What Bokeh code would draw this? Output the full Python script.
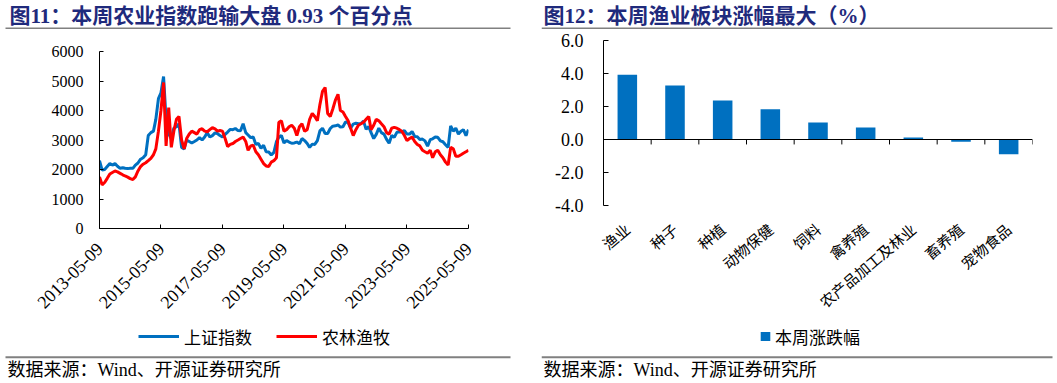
import math
import pandas as pd
from bokeh.plotting import figure
from bokeh.layouts import row, column
from bokeh.models import (Range1d, FactorRange, FixedTicker, DatetimeTickFormatter,
                          NumeralTickFormatter, Legend, LegendItem, Span, ColumnDataSource)
from bokeh.transform import dodge
from bokeh.core.properties import value
from bokeh.embed import file_html
from bokeh.resources import INLINE

# ---------------- data ----------------
start_date = "2013-05-09"
sh_index = [
    2300, 1980, 2000, 2100, 2200, 2150, 2200, 2110,
    2040, 2060, 2040, 2030, 2040, 2040, 2150, 2220, 2350, 2400, 2500, 3150,
    3250, 3300, 3700, 4400, 4600, 5150, 3700, 3200, 3050, 3400, 3450, 3550,
    2750, 2700, 3000, 2950, 2900, 2950, 3000, 3080, 3000, 3100, 3250, 3100,
    3150, 3240, 3220, 3150, 3100, 3190, 3270, 3360, 3350, 3390, 3320, 3310,
    3550, 3250, 3170, 3080, 3100, 2850, 2880, 2720, 2820, 2600, 2590, 2490,
    2580, 2950, 3090, 3150, 2900, 2980, 2930, 2890, 2900, 2930, 2870, 3050,
    2980, 2880, 2750, 2860, 2850, 2980, 3310, 3400, 3220, 3220, 3390, 3470,
    3480, 3510, 3440, 3450, 3610, 3590, 3400, 3540, 3570, 3550, 3560, 3640,
    3360, 3460, 3250, 3050, 3190, 3400, 3250, 3200, 3020, 2890, 3150, 3090,
    3260, 3280, 3270, 3320, 3200, 3200, 3290, 3120, 3110, 3020, 3030, 2970,
    2790, 3010, 3040, 3100, 3090, 2970, 2940, 2840, 2750, 3480, 3300, 3400,
    3200, 3300, 3350, 3150, 3350,
]
agri_index = [
    1750, 1480, 1560, 1700, 1850, 1900, 1950, 1920,
    1870, 1820, 1780, 1740, 1690, 1660, 1750, 1950, 2100, 2180, 2230, 2300,
    2380, 2500, 2700, 3300, 4000, 4950, 2800, 4100, 2750, 3300, 3700, 3800,
    3000, 2700, 3050, 3200, 3300, 3250, 3200, 3350, 3380, 3300, 3280, 3350,
    3420, 3380, 3300, 3320, 3300, 3050, 2780, 2850, 2880, 2950, 3000, 3050,
    3100, 2950, 2650, 2800, 2820, 2600, 2500, 2350, 2200, 2120, 2100, 2250,
    2300, 2400, 3600, 3650, 3300, 3350, 3450, 3500, 3400, 3150, 3450, 3550,
    3300, 3350, 3700, 3900, 3800, 3650, 4200, 4650, 4780, 3900, 3800, 4050,
    4350, 4550, 4000, 3950, 3800, 3650, 3400, 3150, 3350, 3500, 3550, 3600,
    3700, 3800, 3350, 3500, 3700, 3650, 3550, 3450, 3250, 3200, 3400, 3430,
    3400, 3350, 3300, 3150, 2980, 3050, 3100, 2950, 2850, 2800, 2650, 2600,
    2550, 2650, 2400, 2600, 2650, 2500, 2400, 2250, 2150, 2750, 2700, 2450,
    2450, 2500, 2550, 2600, 2650,
]
line_series_names = ["上证指数", "农林渔牧"]
x_tick_labels = ["2013-05-09", "2015-05-09", "2017-05-09", "2019-05-09",
                 "2021-05-09", "2023-05-09", "2025-05-09"]
y_ticks_left = [0, 1000, 2000, 3000, 4000, 5000, 6000]

categories = ["渔业", "种子", "种植", "动物保健", "饲料", "禽养殖",
              "农产品加工及林业", "畜养殖", "宠物食品"]
weekly_change = [3.92, 3.27, 2.36, 1.84, 1.03, 0.73, 0.12, -0.13, -0.90]
bar_series_name = "本周涨跌幅"
y_ticks_right = [-4, -2, 0, 2, 4, 6]

title_left = "图11：本周农业指数跑输大盘 0.93 个百分点"
title_right = "图12：本周渔业板块涨幅最大（%）"
source_text = "数据来源：Wind、开源证券研究所"

# ---------------- styles ----------------
SERIF = "Liberation Serif"
CJK = "Noto Sans CJK SC"
MIX = "Liberation Serif, Noto Sans CJK SC"
NAVY = "#1F2A7C"
RULE = "#808080"
BLUE = "#0070C0"
RED = "#FF0000"
NAN = float("nan")

W_LEFT, W_RIGHT = 541, 515
H_HEAD, H_MAIN, H_LEG, H_FOOT = 29, 293, 28, 32


def blank(width, height):
    f = figure(width=width, height=height, x_range=Range1d(0, width), y_range=Range1d(0, height),
               toolbar_location=None, output_backend="svg", min_border=0,
               x_axis_location=None, y_axis_location=None)
    f.grid.visible = False
    f.outline_line_color = None
    return f


def strip(width, height, text, text_x, text_y, rule_x0, rule_x1, rule_y, size, bold, color):
    f = blank(width, height)
    f.segment(x0=[rule_x0], x1=[rule_x1], y0=[rule_y], y1=[rule_y], line_color=RULE, line_width=2)
    f.text(x=[text_x], y=[text_y], text=[text], text_font=value(MIX), text_font_size=size,
           text_font_style="bold" if bold else "normal", text_color=color,
           text_baseline="middle", text_align="left")
    return f


def style_axis(ax, size, standoff, tick_in):
    ax.axis_line_color = "black"
    ax.axis_line_width = 1
    ax.major_tick_line_color = "black"
    ax.major_tick_in = tick_in
    ax.major_tick_out = 0
    ax.minor_tick_line_color = None
    ax.major_label_text_font = SERIF
    ax.major_label_text_font_size = size
    ax.major_label_text_color = "black"
    ax.major_label_standoff = standoff


# ---------------- left: line chart ----------------
dates = pd.date_range(start=start_date, periods=len(sh_index), freq=pd.DateOffset(months=1))
src = ColumnDataSource(dict(date=dates, sh=sh_index, agri=agri_index))

p1 = figure(width=W_LEFT, height=H_MAIN, x_axis_type="datetime",
            x_range=Range1d(pd.Timestamp(x_tick_labels[0]), pd.Timestamp(x_tick_labels[-1])),
            y_range=Range1d(y_ticks_left[0], y_ticks_left[-1]),
            toolbar_location=None, output_backend="svg",
            min_border_left=99, min_border_right=73, min_border_top=22, min_border_bottom=94)
p1.grid.visible = False
p1.outline_line_color = None
p1.line("date", "sh", source=src, line_color=BLUE, line_width=3)
p1.line("date", "agri", source=src, line_color=RED, line_width=3)

style_axis(p1.yaxis[0], "16px", 16, 4)
p1.yaxis[0].ticker = FixedTicker(ticks=y_ticks_left)
style_axis(p1.xaxis[0], "18px", 17, 4)
p1.xaxis[0].ticker = FixedTicker(ticks=[pd.Timestamp(s).value // 10**6 for s in x_tick_labels])
fmt = "%Y-%m-%d"
p1.xaxis[0].formatter = DatetimeTickFormatter(
    microseconds=fmt, milliseconds=fmt, seconds=fmt, minsec=fmt, minutes=fmt, hourmin=fmt,
    hours=fmt, days=fmt, months=fmt, years=fmt, strip_leading_zeros=False)
p1.xaxis[0].major_label_orientation = math.pi / 4

# legend strip (left); its glyph carriers hold no drawable points
l1 = blank(W_LEFT, H_LEG)
k1 = l1.line(x=[NAN, NAN], y=[NAN, NAN], line_color=BLUE, line_width=3)
k2 = l1.line(x=[NAN, NAN], y=[NAN, NAN], line_color=RED, line_width=3)
l1.add_layout(Legend(items=[LegendItem(label=line_series_names[0], renderers=[k1]),
                            LegendItem(label=line_series_names[1], renderers=[k2])],
                     orientation="horizontal", location="left", margin=138,
                     glyph_width=41, glyph_height=17, label_height=17, label_standoff=5,
                     spacing=24, padding=0, border_line_color=None, background_fill_alpha=0,
                     label_text_font=CJK, label_text_font_size="17px",
                     label_text_color="black"))

# ---------------- right: bar chart ----------------
bsrc = ColumnDataSource(dict(cat=categories, val=weekly_change,
                             y0=[0] * len(categories), y1=[-0.3] * len(categories)))
p2 = figure(width=W_RIGHT, height=H_MAIN, x_range=FactorRange(*categories, range_padding=0),
            y_range=Range1d(y_ticks_right[0], y_ticks_right[-1]),
            toolbar_location=None, output_backend="svg",
            min_border_left=62, min_border_right=24, min_border_top=11, min_border_bottom=112)
p2.grid.visible = False
p2.outline_line_color = None
p2.vbar(x="cat", top="val", bottom=0, width=0.41, source=bsrc,
        fill_color=BLUE, line_color=None)
p2.add_layout(Span(location=0, dimension="width", line_color="black", line_width=1))
p2.segment(x0=dodge("cat", 0.5, range=p2.x_range), y0="y0",
           x1=dodge("cat", 0.5, range=p2.x_range), y1="y1",
           source=bsrc, line_color="black", line_width=1)

style_axis(p2.yaxis[0], "18px", 20, 5)
p2.yaxis[0].ticker = FixedTicker(ticks=y_ticks_right)
p2.yaxis[0].formatter = NumeralTickFormatter(format="0.0")
xa = p2.xaxis[0]
xa.axis_line_color = None
xa.major_tick_line_color = None
xa.minor_tick_line_color = None
xa.major_label_text_font = CJK
xa.major_label_text_font_size = "15px"
xa.major_label_text_color = "black"
xa.major_label_standoff = 15
xa.major_label_orientation = 0.70

# legend strip (right)
l2 = blank(W_RIGHT, H_LEG)
kb = l2.vbar(x=[NAN], top=[NAN], width=0.5, fill_color=BLUE, line_color=None)
l2.add_layout(Legend(items=[LegendItem(label=bar_series_name, renderers=[kb])],
                     orientation="horizontal", location="left", margin=218,
                     glyph_width=12, glyph_height=11, label_height=17, label_standoff=4,
                     padding=0, border_line_color=None, background_fill_alpha=0,
                     label_text_font=CJK, label_text_font_size="17px",
                     label_text_color="black"))

# ---------------- headers / footers ----------------
h1 = strip(W_LEFT, H_HEAD, title_left, 9, 14, 5, 510, 1, "21px", True, NAVY)
h2 = strip(W_RIGHT, H_HEAD, title_right, 2, 14, 0, 511, 1, "21px", True, NAVY)
f1 = strip(W_LEFT, H_FOOT, source_text, 7, 13, 5, 510, 25.3, "18px", False, "black")
f2 = strip(W_RIGHT, H_FOOT, source_text, 2, 13, 0, 511, 25.3, "18px", False, "black")

left_col = column(column(h1), column(p1), column(l1), column(f1))
right_col = column(column(h2), column(p2), column(l2), column(f2))
layout = row(left_col, right_col)

open("out.html", "w").write(file_html(layout, INLINE))
